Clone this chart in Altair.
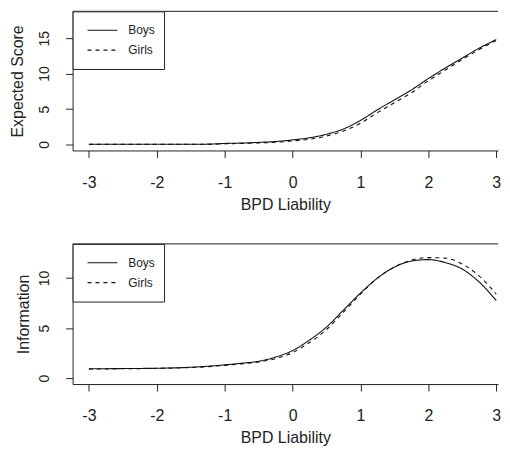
import altair as alt
import pandas as pd

# ---- data ----
theta = [-3.0, -2.5, -2.0, -1.5, -1.25, -1.0, -0.75, -0.5, -0.25, 0.0, 0.25,
         0.5, 0.75, 1.0, 1.25, 1.5, 1.75, 2.0, 2.25, 2.5, 2.75, 3.0]
score_boys = [0.03, 0.03, 0.03, 0.04, 0.05, 0.15, 0.2, 0.3, 0.42, 0.65, 0.95,
              1.45, 2.2, 3.4, 4.9, 6.3, 7.7, 9.3, 10.8, 12.2, 13.6, 14.8]
score_girls = [0.02, 0.02, 0.02, 0.02, 0.03, 0.1, 0.15, 0.22, 0.32, 0.5, 0.75,
               1.2, 1.9, 3.0, 4.5, 5.9, 7.3, 9.0, 10.5, 12.0, 13.4, 14.7]
info_boys = [0.92, 0.95, 0.98, 1.08, 1.18, 1.32, 1.48, 1.68, 2.1, 2.75, 3.8,
             5.1, 6.8, 8.5, 10.0, 11.1, 11.7, 11.85, 11.55, 10.9, 9.6, 7.75]
info_girls = [0.9, 0.93, 0.97, 1.05, 1.14, 1.27, 1.42, 1.6, 1.95, 2.55, 3.55,
              4.85, 6.6, 8.4, 10.0, 11.1, 11.8, 12.05, 12.0, 11.4, 10.2, 8.4]
groups = ["Boys", "Girls"]
x_ticks = [-3, -2, -1, 0, 1, 2, 3]
score_ticks = [0, 5, 10, 15]
info_ticks = [0, 5, 10]

FONT = "Liberation Sans"
INK = "#222222"
W = 428
X_DOMAIN = [-3.24, 3.0264]


def frame(b, g):
    return pd.DataFrame({
        "theta": theta + theta,
        "value": b + g,
        "group": [groups[0]] * len(theta) + [groups[1]] * len(theta),
    })


def panel(b, g, ytitle, ydom, yticks, height, tpad):
    lines = alt.Chart(frame(b, g)).mark_line(
        color="#111111", strokeWidth=1.1, interpolate="monotone", clip=True
    ).encode(
        x=alt.X("theta:Q",
                scale=alt.Scale(domain=X_DOMAIN, nice=False, zero=False),
                axis=alt.Axis(values=x_ticks, title="BPD Liability", tickSize=7,
                              labelPadding=17, titlePadding=6, labelFlush=False,
                              labelFontSize=16, titleFontSize=16,
                              labelExpr="datum.value < 0 ? '-' + abs(datum.value) : '' + datum.value")),
        y=alt.Y("value:Q",
                scale=alt.Scale(domain=ydom, nice=False, zero=False),
                axis=alt.Axis(values=yticks, title=ytitle, tickSize=7,
                              labelPadding=14, labelAngle=270, labelAlign="center",
                              labelBaseline="bottom", labelFontSize=14,
                              titleFontSize=16, titlePadding=tpad)),
        strokeDash=alt.StrokeDash(
            "group:N",
            scale=alt.Scale(domain=groups, range=[[1, 0], [4, 4]]),
            legend=alt.Legend(title=None, orient="top-left", offset=0, padding=9,
                              strokeColor=INK, fillColor="white",
                              symbolType="stroke", symbolSize=900, clipHeight=20,
                              symbolOffset=5, labelOffset=10, rowPadding=0,
                              symbolStrokeWidth=1.1, symbolStrokeColor="#111111",
                              labelFont=FONT, labelFontSize=12, labelColor=INK)),
    )
    top_border = alt.Chart(pd.DataFrame({"k": [0]})).mark_rule(
        color=INK, strokeWidth=1
    ).encode(x=alt.value(0), x2=alt.value(W), y=alt.value(0))
    return alt.layer(lines, top_border).properties(width=W, height=height)


top = panel(score_boys, score_girls, "Expected Score", [-0.84, 18.79], score_ticks, 140, 12)
bottom = panel(info_boys, info_girls, "Information", [-0.6, 13.42], info_ticks, 141, 6)

chart = alt.vconcat(top, bottom, spacing=30).resolve_scale(
    y="independent", strokeDash="shared"
).resolve_legend(strokeDash="independent").properties(
    padding={"left": 1, "top": 1, "right": 0, "bottom": 0},
    background="white",
).configure_view(stroke="transparent").configure_axis(
    grid=False, domain=True, domainColor=INK, domainWidth=1,
    labelFont=FONT, titleFont=FONT,
    labelColor=INK, titleColor=INK, tickColor=INK, tickWidth=1,
    titleFontWeight="normal"
)

chart.save("out.html", embed_options={"renderer": "svg", "actions": False})
